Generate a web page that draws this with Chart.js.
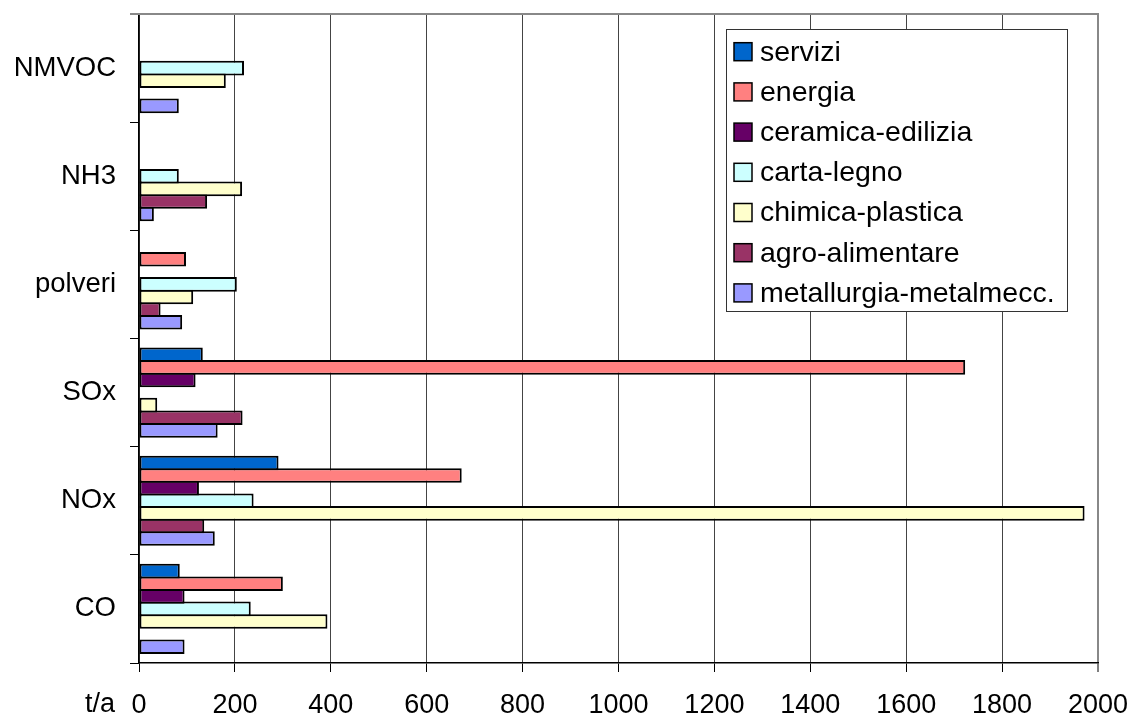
<!DOCTYPE html>
<html><head><meta charset="utf-8">
<script src="https://cdn.jsdelivr.net/npm/chart.js@4/dist/chart.umd.min.js"></script>
<style>html,body{margin:0;padding:0;background:#fff;} #wrap{position:relative;width:1132px;height:718px;}</style>
</head><body><div id="wrap"><canvas id="c" width="1132" height="718"></canvas></div>
<script>
const categories = ['NMVOC', 'NH3', 'polveri', 'SOx', 'NOx', 'CO'];
const seriesNames = ['servizi', 'energia', 'ceramica-edilizia', 'carta-legno', 'chimica-plastica', 'agro-alimentare', 'metallurgia-metalmecc.'];
const servizi     = [null, null, null, 133, 291, 85];
const energia     = [null, null, 98, 1723, 673, 300];
const ceramica    = [null, null, null, 118, 125, 95];
const cartaLegno  = [219, 83, 204, null, 239, 233];
const chimica     = [181, 215, 113, 38, 1972, 393];
const agro        = [null, 142, 45, 216, 136, null];
const metallurgia = [83, 31, 90, 164, 158, 95];
const xTicks = [0, 200, 400, 600, 800, 1000, 1200, 1400, 1600, 1800, 2000];
const axisUnit = 't/a';
const seriesColors = ['#0066CC', '#FF8080', '#660066', '#CCFFFF', '#FFFFCC', '#993366', '#9999FF'];

const FONT = "'Liberation Sans', Arial, sans-serif";
const seriesValues = [servizi, energia, ceramica, cartaLegno, chimica, agro, metallurgia];

const datasets = seriesNames.map((name, i) => ({
  label: name,
  data: seriesValues[i],
  backgroundColor: seriesColors[i],
  borderColor: '#000',
  borderWidth: 2,
  borderSkipped: false,
  categoryPercentage: 0.815,
  barPercentage: 1.16
}));

const decorPlugin = {
  id: 'decor',
  afterDraw(chart) {
    const ctx = chart.ctx;
    const ca = chart.chartArea;
    ctx.save();
    // top frame line
    ctx.strokeStyle = '#888';
    ctx.lineWidth = 2;
    ctx.beginPath();
    ctx.moveTo(130, ca.top);
    ctx.lineTo(ca.right + 1, ca.top);
    ctx.stroke();
    // unit label
    ctx.fillStyle = '#000';
    ctx.font = '27px ' + FONT;
    ctx.textAlign = 'center';
    ctx.textBaseline = 'middle';
    ctx.fillText(axisUnit, 100, 705);
    // legend box
    const bx = 726, by = 29, bw = 341, bh = 282;
    ctx.fillStyle = '#fff';
    ctx.fillRect(bx, by, bw, bh);
    ctx.strokeStyle = '#333';
    ctx.lineWidth = 1;
    ctx.strokeRect(bx + 0.5, by + 0.5, bw, bh);
    ctx.font = '28.5px ' + FONT;
    ctx.textAlign = 'left';
    ctx.textBaseline = 'middle';
    chart.data.datasets.forEach((ds, i) => {
      const cy = 51.7 + i * 40.2;
      ctx.fillStyle = ds.backgroundColor;
      ctx.fillRect(734, cy - 9, 18, 18);
      ctx.strokeStyle = '#000';
      ctx.lineWidth = 1.5;
      ctx.strokeRect(734, cy - 9, 18, 18);
      ctx.fillStyle = '#000';
      ctx.fillText(ds.label, 760, cy + 1);
    });
    ctx.restore();
  }
};

new Chart(document.getElementById('c'), {
  type: 'bar',
  data: { labels: categories, datasets },
  plugins: [decorPlugin],
  options: {
    indexAxis: 'y',
    responsive: false,
    animation: false,
    layout: { padding: { top: 14, right: 34, left: 0, bottom: 0 } },
    plugins: { legend: { display: false }, tooltip: { enabled: false } },
    scales: {
      x: {
        min: 0, max: 2000,
        position: 'bottom',
        afterBuildTicks: axis => { axis.ticks = xTicks.map(v => ({ value: v })); },
        ticks: { color: '#000', font: { family: FONT, size: 27 }, padding: 17, maxRotation: 0, autoSkip: false,
                 callback: v => String(v) },
        grid: {
          color: ctx => (ctx.tick && ctx.tick.value === 2000) ? '#888' : '#444',
          lineWidth: ctx => (ctx.tick && ctx.tick.value === 2000) ? 2 : 1,
          tickLength: 9, tickColor: '#000', tickWidth: 1
        },
        border: { color: '#000', width: 1.5 },
        afterFit: s => { s.height = 55; s.paddingLeft = 0; s.paddingRight = 0; }
      },
      y: {
        position: 'left',
        ticks: { color: '#000', font: { family: FONT, size: 27.5 }, padding: 14 },
        grid: { drawOnChartArea: false, tickLength: 9, tickColor: '#000', offset: true },
        border: { color: '#000', width: 1.5 },
        afterFit: s => { s.width = 139; s.paddingTop = 0; s.paddingBottom = 0; }
      }
    }
  }
});
</script>
</body></html>
